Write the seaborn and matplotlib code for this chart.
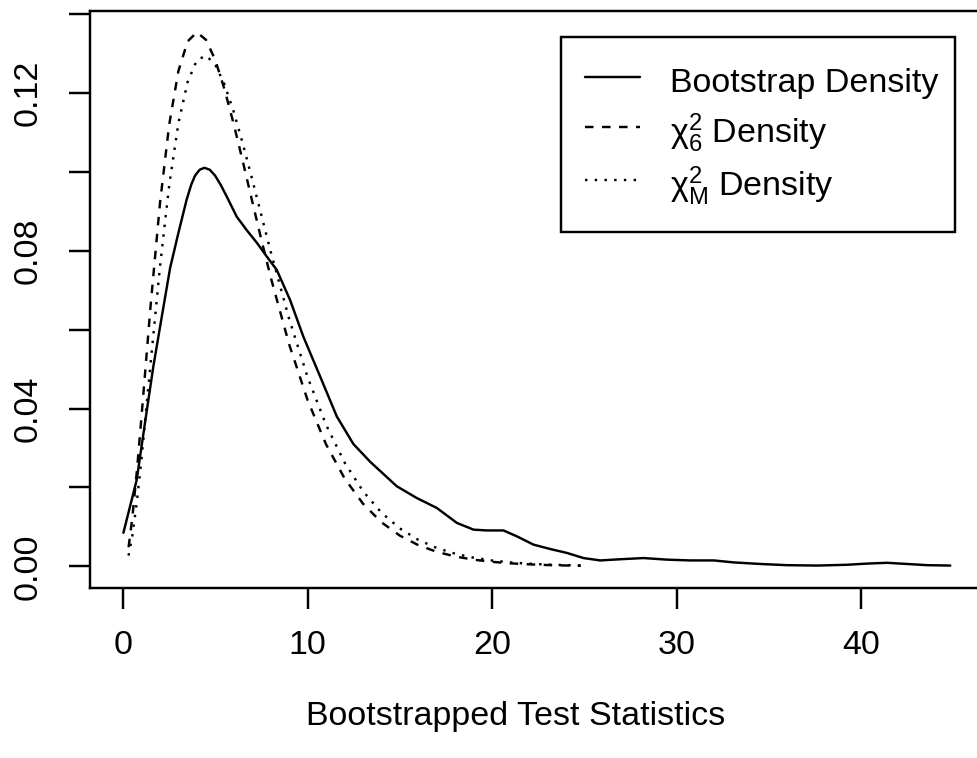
import matplotlib
matplotlib.use("Agg")
import matplotlib.pyplot as plt
import seaborn as sns
import pandas as pd
import numpy as np

# ---- data ----
boot_x = [0.02, 0.74, 1.19, 1.64, 2.10, 2.55, 3.00, 3.45, 3.70, 3.90, 4.15, 4.41, 4.70,
          4.99, 5.30, 5.62, 6.16, 6.70, 7.25, 7.79, 8.33, 9.05, 9.77, 10.68, 11.58,
          12.48, 13.39, 14.83, 15.92, 17.00, 18.09, 18.99, 19.71, 20.61, 21.34, 22.24,
          23.14, 24.05, 24.95, 25.85, 26.94, 28.20, 29.47, 30.73, 32.00, 33.08, 34.53,
          35.97, 37.60, 39.22, 40.31, 41.40, 42.48, 43.56, 44.82]
boot_y = [0.0085, 0.0219, 0.0364, 0.0506, 0.0633, 0.0756, 0.0845, 0.0930, 0.0968,
          0.0990, 0.1005, 0.1010, 0.1005, 0.0990, 0.0966, 0.0937, 0.0886, 0.0852,
          0.0820, 0.0785, 0.0751, 0.0675, 0.0582, 0.0481, 0.0380, 0.0310, 0.0265,
          0.0203, 0.0173, 0.0148, 0.0110, 0.0093, 0.0091, 0.0091, 0.0076, 0.0055,
          0.0044, 0.0034, 0.0021, 0.0015, 0.0018, 0.0021, 0.0017, 0.0015, 0.0015,
          0.0010, 0.0006, 0.0003, 0.0002, 0.0004, 0.0007, 0.0009, 0.0006, 0.0003,
          0.0002]

chi_x = [0.3, 0.5, 0.75, 1.0, 1.5, 2.0, 2.5, 3.0, 3.5, 4.0, 4.5, 5.0, 5.5, 6.0,
         6.5, 7.0, 7.5, 8.0, 9.0, 10.0, 11.0, 12.0, 13.0, 14.0, 15.0, 16.0, 17.0,
         18.0, 19.0, 20.0, 21.0, 22.0, 23.0, 24.0, 24.8]
chi6_y = [0.00484, 0.01217, 0.02416, 0.03791, 0.06643, 0.09197, 0.11191, 0.12551,
          0.13304, 0.13534, 0.13340, 0.12826, 0.12086, 0.11202, 0.10239, 0.09248,
          0.08268, 0.07326, 0.05624, 0.04211, 0.03091, 0.02231, 0.01588, 0.01117,
          0.00778, 0.00537, 0.00368, 0.00250, 0.00169, 0.00114, 0.00076, 0.00051,
          0.00033, 0.00022, 0.00016]
chiM_y = [0.00273, 0.00761, 0.01639, 0.02723, 0.05174, 0.07588, 0.09655, 0.11231,
          0.12277, 0.12827, 0.12944, 0.12711, 0.12208, 0.11514, 0.10694, 0.09803,
          0.08886, 0.07976, 0.06269, 0.04794, 0.03586, 0.02634, 0.01905, 0.01360,
          0.00960, 0.00671, 0.00465, 0.00320, 0.00219, 0.00148, 0.00100, 0.00067,
          0.00045, 0.00030, 0.00022]

labels = ["Bootstrap Density", r"$\mathrm{\chi}^{2}_{6}$ Density", r"$\mathrm{\chi}^{2}_{\mathrm{M}}$ Density"]
x_ticks = [0, 10, 20, 30, 40]
y_ticks = [0.00, 0.02, 0.04, 0.06, 0.08, 0.10, 0.12, 0.14]
y_ticklabels = ["0.00", "", "0.04", "", "0.08", "", "0.12", ""]
xlabel = "Bootstrapped Test Statistics"

# ---- style ----
sns.set_theme(style="white")
plt.rcParams["font.family"] = ["Liberation Sans", "DejaVu Sans"]
plt.rcParams["mathtext.fontset"] = "custom"
plt.rcParams["mathtext.rm"] = "Liberation Sans"
plt.rcParams["mathtext.it"] = "Liberation Sans:italic"
plt.rcParams["mathtext.bf"] = "Liberation Sans:bold"
plt.rcParams["text.color"] = "black"

W, H = 977, 758
fig = plt.figure(figsize=(W / 100, H / 100), dpi=100)
fig.patch.set_facecolor("white")
left, right, top, bottom = 90, 992, 11, 587.7
ax = fig.add_axes([left / W, 1 - bottom / H, (right - left) / W, (bottom - top) / H])
ax.set_facecolor("white")

lw = 1.75
df_boot = pd.DataFrame({"x": boot_x, "y": boot_y})
df_chi = pd.DataFrame({"x": chi_x, "y6": chi6_y, "yM": chiM_y})

sns.lineplot(data=df_boot, x="x", y="y", color="black", linewidth=lw, ax=ax,
             label=labels[0], solid_capstyle="round", solid_joinstyle="round")
sns.lineplot(data=df_chi, x="x", y="y6", color="black", linewidth=lw, ax=ax,
             label=labels[1], linestyle=(0, (3.5, 3.5)))
sns.lineplot(data=df_chi, x="x", y="yM", color="black", linewidth=lw, ax=ax,
             label=labels[2], linestyle=(0, (1, 3)))

ax.set_xlim(-1.79, 47.08)
ax.set_ylim(-0.00541, 0.14073)

ax.set_xticks(x_ticks)
ax.set_xticklabels([str(v) for v in x_ticks])
ax.set_yticks(y_ticks)
ax.set_yticklabels(y_ticklabels, rotation=90, va="center")

fs = 24.5
ax.tick_params(axis="both", which="major", direction="out", length=15, width=lw,
               color="black", labelsize=fs, labelcolor="black", bottom=True, left=True)
ax.tick_params(axis="x", pad=15.5)
ax.tick_params(axis="y", pad=18.5)

for s in ax.spines.values():
    s.set_visible(True)
    s.set_color("black")
    s.set_linewidth(lw)

ax.set_xlabel(xlabel, fontsize=fs, color="black")
ax.xaxis.set_label_coords((516 - left) / (right - left), -(701 - bottom) / (bottom - top))
ax.set_ylabel("")

leg = ax.legend(loc="upper left",
                bbox_to_anchor=(561 / W, 1 - 230 / H, (955 - 561) / W, (230 - 37) / H),
                bbox_transform=fig.transFigure, mode="expand",
                fontsize=fs, frameon=True, fancybox=False, shadow=False,
                borderpad=0.7, handlelength=1.62, handletextpad=0.88,
                handleheight=1.45, labelspacing=0.29, borderaxespad=0,
                labelcolor="black")
leg.get_frame().set_edgecolor("black")
leg.get_frame().set_linewidth(lw)
leg.get_frame().set_facecolor("white")
leg.get_frame().set_alpha(1)

fig.savefig("out.png", dpi=100, facecolor="white")
